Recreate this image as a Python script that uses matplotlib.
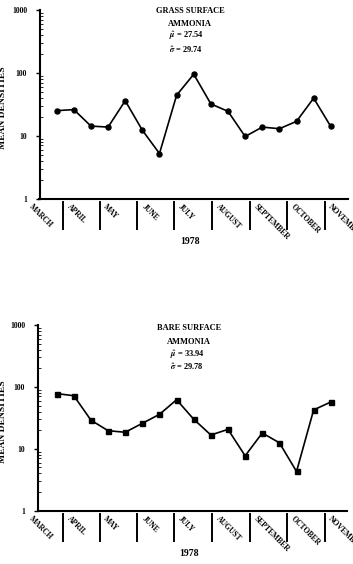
import matplotlib
matplotlib.use("Agg")
import matplotlib.pyplot as plt
import matplotlib.transforms as mtransforms
import pandas as pd

# sampling dates (biweekly, 1978)
dates = pd.to_datetime([
    "1978-03-27", "1978-04-10", "1978-04-24", "1978-05-08", "1978-05-22",
    "1978-06-05", "1978-06-19", "1978-07-03", "1978-07-17", "1978-07-31",
    "1978-08-14", "1978-08-28", "1978-09-11", "1978-09-25", "1978-10-09",
    "1978-10-23", "1978-11-06",
])

grass = [25, 26, 14.2, 13.7, 36, 12.2, 5.2, 44, 95, 32, 24.4, 9.7, 13.7, 12.9, 16.9, 39.5, 14]
bare = [78, 72, 29, 19.6, 18.5, 25.8, 36, 62, 30, 16.7, 20.6, 7.7, 18, 12.5, 4.3, 42.5, 57]

month_names = ["MARCH", "APRIL", "MAY", "JUNE", "JULY", "AUGUST",
               "SEPTEMBER", "OCTOBER", "NOVEMBER"]
month_starts = pd.date_range("1978-03-01", "1978-11-01", freq="MS")

panels = [
    {"title": "GRASS SURFACE", "mu": "27.54", "sigma": "29.74", "y": grass, "marker": "o"},
    {"title": "BARE SURFACE", "mu": "33.94", "sigma": "29.78", "y": bare, "marker": "s"},
]

W, H = 353, 564
plt.rcParams["font.family"] = ["Liberation Serif", "DejaVu Serif"]
plt.rcParams["font.weight"] = "bold"
plt.rcParams["mathtext.fontset"] = "stix"

fig = plt.figure(figsize=(W / 100, H / 100), dpi=100)

# axes boxes in pixels: left, right, top, bottom
boxes = [(39.5, 348, 10, 198.5), (37.5, 347, 325, 510.7)]
text_pos = [(190, 10.7, 24, 36, 50, 169, 241.7), (189, 328.3, 341.7, 355, 366.7, 170, 553)]

px_per_day = 1.2236
first_px = 56.7

for p, (l, r, t, b), tp in zip(panels, boxes, text_pos):
    ax = fig.add_axes([l / W, 1 - b / H, (r - l) / W, (b - t) / H])
    ax.plot(dates, p["y"], color="black", lw=1.2, marker=p["marker"], ms=3.6,
            markerfacecolor="black", markeredgecolor="black")
    ax.set_yscale("log")
    ax.set_ylim(1, 1000)
    x0 = dates[0] - pd.Timedelta(days=(first_px - l) / px_per_day)
    x1 = dates[0] + pd.Timedelta(days=(r - first_px) / px_per_day)
    ax.set_xlim(x0, x1)

    for s in ["top", "right"]:
        ax.spines[s].set_visible(False)
    ax.spines["left"].set_linewidth(1.5)
    ax.spines["bottom"].set_linewidth(1.5)

    ax.set_yticks([1, 10, 100, 1000])
    ax.set_yticklabels(["1", "10", "100", "1000"], fontsize=5.5, fontweight="bold")
    ax.tick_params(axis="y", which="major", direction="out", length=3, width=1, pad=6)
    ax.tick_params(axis="y", which="minor", direction="in", length=1.8, width=0.6)
    ax.set_xticks([])
    ax.tick_params(axis="x", which="both", bottom=False, labelbottom=False)

    ax.set_ylabel("MEAN DENSITIES", fontsize=6.8, fontweight="bold")
    ax.yaxis.set_label_coords((7.5 - l) / (r - l), 0.48)

    # month separators and labels below the x axis
    trans = mtransforms.blended_transform_factory(ax.transData, ax.transAxes)
    hpx = b - t
    for ms_, name in zip(month_starts, month_names):
        if ms_ > month_starts[0]:
            ax.plot([ms_, ms_], [-3 / hpx, -30 / hpx], color="black", lw=1.4,
                    transform=trans, clip_on=False)
        ax.text(ms_ + pd.Timedelta(days=6.5), -4 / hpx, name, transform=trans,
                rotation=-45, rotation_mode="anchor", ha="left", va="top",
                fontsize=5.5, fontweight="bold")

    cx, y1, y2, y3, y4, mx, yy = tp
    fig.text(cx / W, 1 - y1 / H, p["title"], ha="center", va="center",
             fontsize=6, fontweight="bold")
    fig.text(cx / W, 1 - y2 / H, "AMMONIA", ha="center", va="center",
             fontsize=6, fontweight="bold")
    fig.text(mx / W, 1 - y3 / H, r"$\hat{\mu}$ = " + p["mu"], ha="left", va="center",
             fontsize=6, fontweight="bold")
    fig.text(mx / W, 1 - y4 / H, r"$\hat{\sigma}$ = " + p["sigma"], ha="left", va="center",
             fontsize=6, fontweight="bold")
    fig.text(cx / W, 1 - yy / H, "1978", ha="center", va="center",
             fontsize=7, fontweight="bold")

fig.savefig("out.png", dpi=100, facecolor="white")
